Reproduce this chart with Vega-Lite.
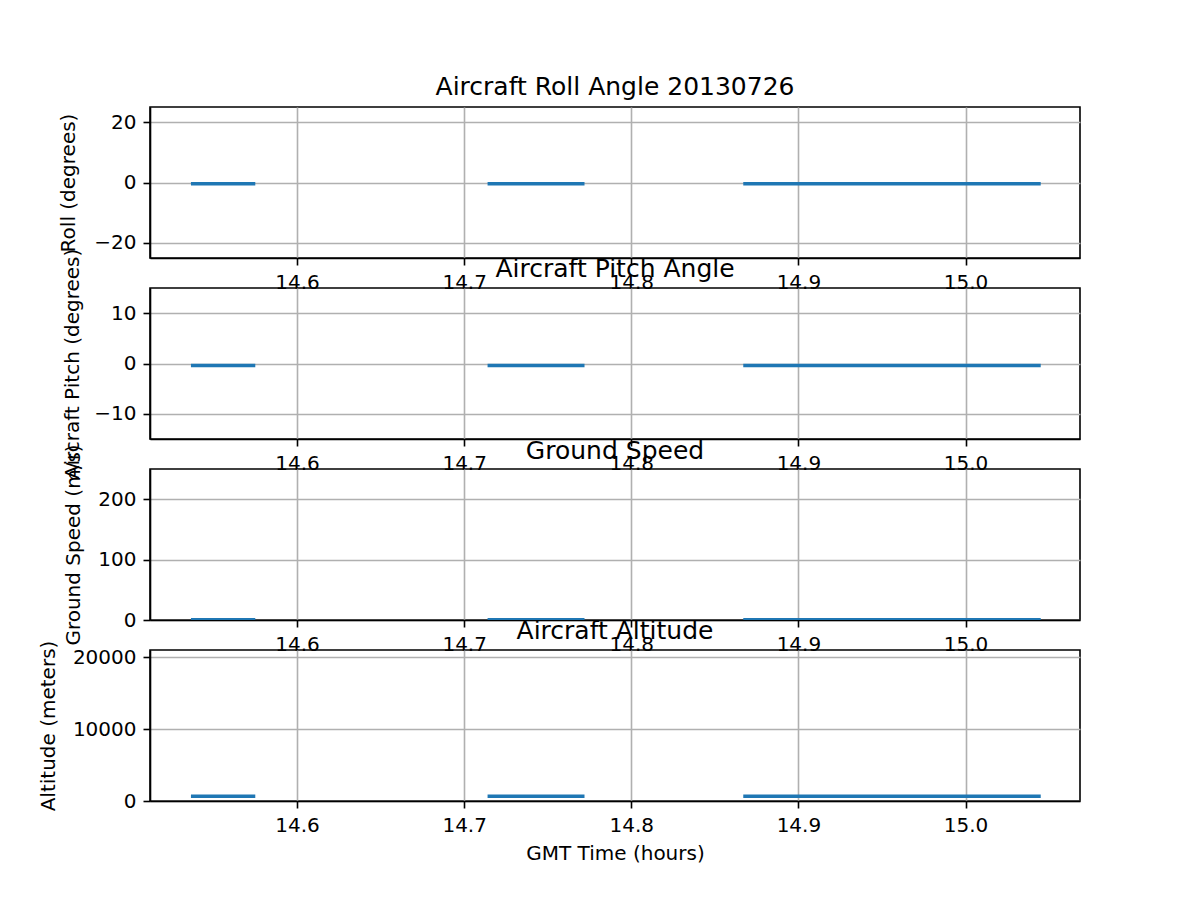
{
  "$schema": "https://vega.github.io/schema/vega-lite/v6.json",
  "background": "white",
  "padding": {"left": 37, "top": 74, "right": 20, "bottom": 20},
  "bounds": "flush",
  "spacing": 30,
  "config": {
    "font": "DejaVu Sans",
    "view": {"stroke": "black", "strokeWidth": 1.6},
    "axis": {
      "labelFont": "DejaVu Sans", "labelFontSize": 20, "labelColor": "black",
      "titleFont": "DejaVu Sans", "titleFontSize": 20, "titleFontWeight": "normal", "titleColor": "black",
      "tickColor": "black", "tickSize": 7, "tickWidth": 1.6,
      "domainColor": "black", "domainWidth": 1.6,
      "gridColor": "#b0b0b0", "gridWidth": 1.6, "labelPadding": 7
    },
    "title": {"font": "DejaVu Sans", "fontSize": 25, "fontWeight": "normal", "color": "black", "offset": 7}
  },
  "datasets": {
    "flight": [
      {"seg": "A", "t": 14.5365, "roll": -0.4, "pitch": -0.4, "speed": 0.3, "alt": 650},
      {"seg": "A", "t": 14.575, "roll": -0.4, "pitch": -0.4, "speed": 0.3, "alt": 650},
      {"seg": "B", "t": 14.714, "roll": -0.4, "pitch": -0.4, "speed": 0.3, "alt": 650},
      {"seg": "B", "t": 14.772, "roll": -0.4, "pitch": -0.4, "speed": 0.3, "alt": 650},
      {"seg": "C", "t": 14.867, "roll": -0.4, "pitch": -0.4, "speed": 0.3, "alt": 650},
      {"seg": "C", "t": 15.045, "roll": -0.4, "pitch": -0.4, "speed": 0.3, "alt": 650}
    ]
  },
  "vconcat": [
    {
      "title": {"text": "Aircraft Roll Angle 20130726", "offset": 7},
      "width": 930, "height": 151,
      "data": {"name": "flight"},
      "mark": {"type": "line", "color": "#1f77b4", "strokeWidth": 3.5, "clip": true},
      "encoding": {
        "x": {"field": "t", "type": "quantitative", "scale": {"domain": [14.512, 15.0685], "nice": false, "zero": false},
              "axis": {"values": [14.6, 14.7, 14.8, 14.9, 15.0], "format": ".1f", "title": null}},
        "y": {"field": "roll", "type": "quantitative", "scale": {"domain": [-25, 25], "nice": false, "zero": false},
              "axis": {"values": [-20, 0, 20], "title": "Roll (degrees)", "titleX": -82, "titleBaseline": "middle"}},
        "detail": {"field": "seg"}
      }
    },
    {
      "title": {"text": "Aircraft Pitch Angle", "offset": -34},
      "width": 930, "height": 151,
      "data": {"name": "flight"},
      "mark": {"type": "line", "color": "#1f77b4", "strokeWidth": 3.5, "clip": true},
      "encoding": {
        "x": {"field": "t", "type": "quantitative", "scale": {"domain": [14.512, 15.0685], "nice": false, "zero": false},
              "axis": {"values": [14.6, 14.7, 14.8, 14.9, 15.0], "format": ".1f", "title": null}},
        "y": {"field": "pitch", "type": "quantitative", "scale": {"domain": [-15, 15], "nice": false, "zero": false},
              "axis": {"values": [-10, 0, 10], "title": "Aircraft Pitch (degrees)", "titleX": -78, "titleBaseline": "middle"}},
        "detail": {"field": "seg"}
      }
    },
    {
      "title": {"text": "Ground Speed", "offset": -20},
      "width": 930, "height": 151,
      "data": {"name": "flight"},
      "mark": {"type": "line", "color": "#1f77b4", "strokeWidth": 3.5, "clip": true},
      "encoding": {
        "x": {"field": "t", "type": "quantitative", "scale": {"domain": [14.512, 15.0685], "nice": false, "zero": false},
              "axis": {"values": [14.6, 14.7, 14.8, 14.9, 15.0], "format": ".1f", "title": null}},
        "y": {"field": "speed", "type": "quantitative", "scale": {"domain": [0, 250], "nice": false, "zero": false},
              "axis": {"values": [0, 100, 200], "title": "Ground Speed (m/s)", "titleX": -77, "titleBaseline": "middle"}},
        "detail": {"field": "seg"}
      }
    },
    {
      "title": {"text": "Aircraft Altitude", "offset": -4},
      "width": 930, "height": 151,
      "data": {"name": "flight"},
      "mark": {"type": "line", "color": "#1f77b4", "strokeWidth": 3.5, "clip": true},
      "encoding": {
        "x": {"field": "t", "type": "quantitative", "scale": {"domain": [14.512, 15.0685], "nice": false, "zero": false},
              "axis": {"values": [14.6, 14.7, 14.8, 14.9, 15.0], "format": ".1f", "title": "GMT Time (hours)", "titlePadding": 8}},
        "y": {"field": "alt", "type": "quantitative", "scale": {"domain": [0, 21000], "nice": false, "zero": false},
              "axis": {"values": [0, 10000, 20000], "format": "d", "title": "Altitude (meters)", "titleX": -102, "titleBaseline": "middle"}},
        "detail": {"field": "seg"}
      }
    }
  ]
}
